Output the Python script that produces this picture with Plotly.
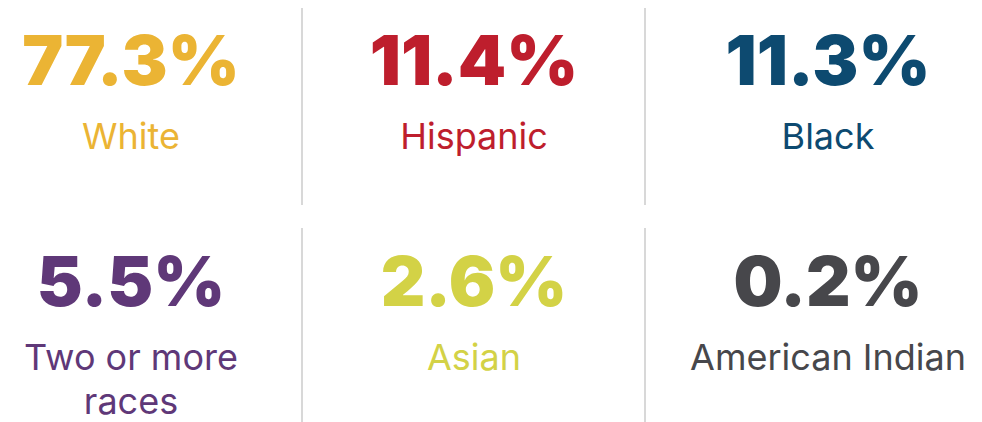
import plotly.graph_objects as go

# data
groups = ['White', 'Hispanic', 'Black', 'Two or more<br>races', 'Asian', 'American Indian']
shares = [77.3, 11.4, 11.3, 5.5, 2.6, 0.2]
colors = ['#EBB434', '#BE1E2D', '#0D4A70', '#5F3878', '#D3D246', '#47474B']

# grid layout (pixels in the page; the body has an 8px margin)
W, H, PAD = 982, 422, 8
col_center = [131, 474, 828]
row_top = [0, 221]
dividers_x = [302, 645]
line_gap = 44

vx, vy = [], []
lx, ly, lt, lc = [], [], [], []
for i, g in enumerate(groups):
    r, c = divmod(i, 3)
    vx.append(col_center[c])
    vy.append(row_top[r] + 68)
    for k, part in enumerate(g.split('<br>')):
        lx.append(col_center[c])
        ly.append(row_top[r] + 122 + k * line_gap)
        lt.append(part)
        lc.append(colors[i])

fig = go.Figure()

fig.add_trace(go.Scatter(
    x=vx, y=vy, mode='text',
    text=[f'{v:.1f}%' for v in shares],
    textposition='middle center',
    textfont=dict(family='Inter', size=69, color=colors, weight=900),
    cliponaxis=False, hoverinfo='skip', showlegend=False,
))

fig.add_trace(go.Scatter(
    x=lx, y=ly, mode='text',
    text=lt,
    textposition='bottom center',
    textfont=dict(family='Inter', size=36, color=lc),
    cliponaxis=False, hoverinfo='skip', showlegend=False,
))

for x in dividers_x:
    for y0, y1 in [(6, 205), (228, 422)]:
        fig.add_shape(type='line', x0=x, x1=x, y0=y0, y1=y1,
                      line=dict(color='#D8D8D8', width=2))

fig.update_layout(
    width=W - PAD, height=H - PAD,
    margin=dict(l=0, r=0, t=0, b=0),
    paper_bgcolor='white', plot_bgcolor='white',
    xaxis=dict(range=[PAD, W], visible=False, fixedrange=True),
    yaxis=dict(range=[H, PAD], visible=False, fixedrange=True),
)

fig.write_html('out.html')
